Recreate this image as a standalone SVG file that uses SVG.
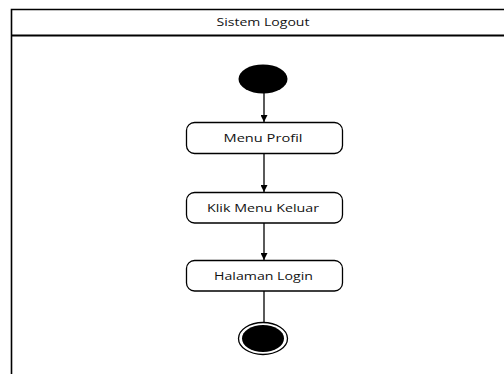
<svg xmlns="http://www.w3.org/2000/svg" width="504" height="374" viewBox="0 0 504 374">
  <style>
    .frame { fill: none; stroke: #000; stroke-width: 1.6; }
    .action { fill: #fff; stroke: #000; stroke-width: 1.3; }
    .label { font-family: "Open Sans", "Liberation Sans", sans-serif; font-size: 10.5px; fill: #111; text-anchor: middle; }
    .flow { fill: none; stroke: #000; stroke-width: 1.3; }
  </style>
  <defs>
    <marker id="arrow" viewBox="0 0 10 10" refX="10" refY="5" markerWidth="7" markerHeight="7" markerUnits="userSpaceOnUse" orient="auto">
      <path d="M0,0 L10,5 L0,10 z" fill="#000"/>
    </marker>
  </defs>
  <rect width="504" height="374" fill="#fff"/>

  <!-- swimlane frame -->
  <g id="lane">
    <path class="frame" d="M11.5,374 V9.5 H504" stroke="#555"/>
    <line x1="11" y1="35.5" x2="504" y2="35.5" stroke="#000" stroke-width="2"/>
    <text class="label" x="263" y="25.5" textLength="93" lengthAdjust="spacingAndGlyphs">Sistem Logout</text>
  </g>

  <!-- connectors -->
  <g id="connectors">
    <line class="flow" x1="264" y1="93" x2="264" y2="122" marker-end="url(#arrow)"/>
    <line class="flow" x1="264" y1="154" x2="264" y2="192" marker-end="url(#arrow)"/>
    <line class="flow" x1="264" y1="223" x2="264" y2="260" marker-end="url(#arrow)"/>
    <line class="flow" x1="264" y1="291" x2="264" y2="322"/>
  </g>

  <g id="start">
    <ellipse cx="263" cy="79" rx="24.5" ry="14.5" fill="#000"/>
  </g>

  <g id="menu-profil">
    <rect class="action" x="186.5" y="122.5" width="156" height="31" rx="8"/>
    <text class="label" x="263" y="142" textLength="79" lengthAdjust="spacingAndGlyphs">Menu Profil</text>
  </g>

  <g id="klik-menu-keluar">
    <rect class="action" x="186.5" y="192.5" width="156" height="30.5" rx="8"/>
    <text class="label" x="263" y="211.5" textLength="112" lengthAdjust="spacingAndGlyphs">Klik Menu Keluar</text>
  </g>

  <g id="halaman-login">
    <rect class="action" x="186.5" y="260.5" width="156" height="30.5" rx="8"/>
    <text class="label" x="263.5" y="279.5" textLength="99" lengthAdjust="spacingAndGlyphs">Halaman Login</text>
  </g>

  <g id="end">
    <ellipse cx="263" cy="338.5" rx="24.5" ry="16" fill="#fff" stroke="#000" stroke-width="1.3"/>
    <ellipse cx="263" cy="338.5" rx="21" ry="13.5" fill="#000"/>
  </g>
</svg>
